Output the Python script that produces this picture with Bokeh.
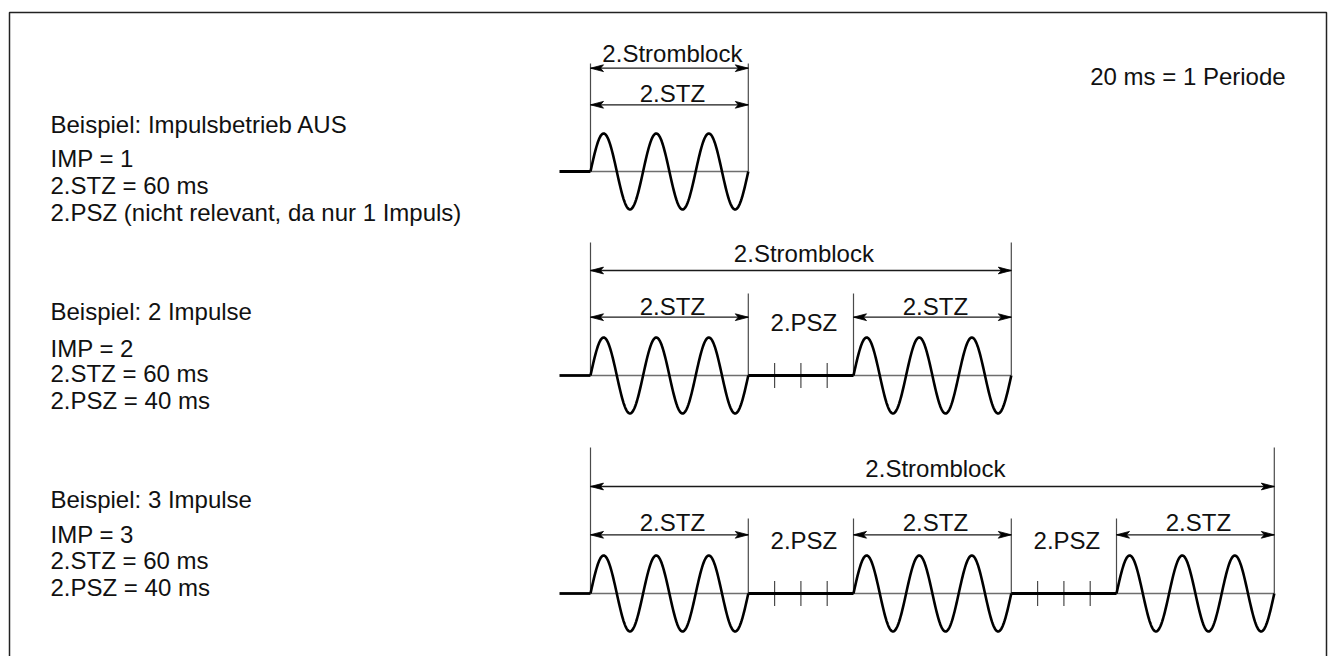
import numpy as np
from bokeh.plotting import figure
from bokeh.models import Range1d
from bokeh.core.properties import value
from bokeh.embed import file_html
from bokeh.resources import INLINE

# ---------------- data ----------------
period_ms = 20
imp = [1, 2, 3]
stz_ms = [60, 60, 60]
psz_ms = [40, 40, 40]
titles = ["Beispiel: Impulsbetrieb AUS", "Beispiel: 2 Impulse", "Beispiel: 3 Impulse"]
psz_notes = ["2.PSZ (nicht relevant, da nur 1 Impuls)", "2.PSZ = 40 ms", "2.PSZ = 40 ms"]
block_label = "2.Stromblock"
stz_label = "2.STZ"
psz_label = "2.PSZ"
period_note = "20 ms = 1 Periode"

# ---------------- layout ----------------
W, H = 1330, 656
X0 = 590.0          # canvas px of t = 0
S = 2.63            # px per ms
FONT = value("Liberation Sans")
FS = value("24px")
AMP = 38.0

def px2ms(px):
    return (px - X0) / S

base_y = [171, 375, 593]                 # canvas y of the zero line of each row
outer_top = [108, 133, 146]              # extension line heights above zero line
inner_top = [0, 82, 75]
block_arrow = [103.3, 105, 107]
stz_arrow = [66.7, 58.3, 58.7]
block_text = [118, 121.7, 125]
stz_text = [78, 69, 71.3]
psz_text = [0, 53.3, 53.3]
left_lines_y = [[124, 158.3, 185, 211.7],
                [310.7, 347.7, 373.3, 400],
                [499, 534.3, 560, 586.7]]
LEAD_PX = 31

p = figure(width=W, height=H, output_backend="svg", toolbar_location=None,
           x_range=Range1d(px2ms(0), px2ms(W)), y_range=Range1d(H, 0),
           x_axis_location=None, y_axis_location=None, min_border=0,
           outline_line_color=None, background_fill_color="white",
           border_fill_color="white")
p.grid.visible = False

# frame
fx = [px2ms(9), px2ms(9), px2ms(1326), px2ms(1326)]
fy = [H, 12, 12, H]
p.line(fx, fy, line_color="#222222", line_width=1.5)

wave_xs, wave_ys = [], []
thick_xs, thick_ys = [], []
thin_x0, thin_x1, thin_y = [], [], []
ext_x, ext_y0, ext_y1 = [], [], []
tick_x, tick_y0, tick_y1 = [], [], []
arr_x0, arr_x1, arr_y = [], [], []
head_xs, head_ys = [], []
lab_x, lab_y, lab_t = [], [], []

HL, HW, NOTCH = 13.0, 3.4, 3.0

def add_arrow(a, b, y):
    arr_x0.append(a); arr_x1.append(b); arr_y.append(y)
    for tip, d in ((a, -1), (b, 1)):
        head_xs.append([tip, tip - d * HL / S, tip - d * (HL - NOTCH) / S, tip - d * HL / S])
        head_ys.append([y, y - HW, y, y + HW])

for r in range(3):
    b = base_y[r]
    n = imp[r]
    starts = [i * (stz_ms[r] + psz_ms[r]) for i in range(n)]
    ends = [s + stz_ms[r] for s in starts]
    total = ends[-1]
    # waves
    for s, e in zip(starts, ends):
        t = np.linspace(s, e, 240)
        wave_xs.append(t)
        wave_ys.append(b - AMP * np.sin(2 * np.pi * (t - s) / period_ms))
    # thick zero segments: lead-in and pauses
    thick_xs.append([-LEAD_PX / S, 0]); thick_ys.append([b, b])
    for i in range(n - 1):
        thick_xs.append([ends[i], starts[i + 1]]); thick_ys.append([b, b])
        k = 1
        while ends[i] + k * period_ms / 2 < starts[i + 1] - 1e-9:
            tx = ends[i] + k * period_ms / 2
            tick_x.append(tx); tick_y0.append(b - 12.5); tick_y1.append(b + 12.5)
            k += 1
    thin_x0.append(0); thin_x1.append(total); thin_y.append(b)
    # extension lines
    for xv in (0, total):
        ext_x.append(xv); ext_y0.append(b - outer_top[r]); ext_y1.append(b)
    for i in range(n - 1):
        for xv in (ends[i], starts[i + 1]):
            ext_x.append(xv); ext_y0.append(b - inner_top[r]); ext_y1.append(b)
    # arrows
    add_arrow(0, total, b - block_arrow[r])
    for s, e in zip(starts, ends):
        add_arrow(s, e, b - stz_arrow[r])
    # labels
    lab_x.append(total / 2); lab_y.append(b - block_text[r]); lab_t.append(block_label)
    for s, e in zip(starts, ends):
        lab_x.append((s + e) / 2); lab_y.append(b - stz_text[r]); lab_t.append(stz_label)
    for i in range(n - 1):
        lab_x.append((ends[i] + starts[i + 1]) / 2); lab_y.append(b - psz_text[r]); lab_t.append(psz_label)

# thin zero lines
p.segment(thin_x0, thin_y, thin_x1, thin_y, line_color="#6e6e6e", line_width=1.3)
# extension lines and pause ticks
p.segment(ext_x, ext_y0, ext_x, ext_y1, line_color="#4a4a4a", line_width=1.2)
p.segment(tick_x, tick_y0, tick_x, tick_y1, line_color="#4a4a4a", line_width=1.2)
# thick zero segments
p.multi_line(thick_xs, thick_ys, line_color="black", line_width=2.8)
# waves
p.multi_line(wave_xs, wave_ys, line_color="black", line_width=2.6, line_join="round")
# arrows
p.segment(arr_x0, arr_y, arr_x1, arr_y, line_color="#1a1a1a", line_width=1.3)
p.patches(head_xs, head_ys, fill_color="black", line_color="black", line_width=0.8)

# labels over dimension arrows
p.text(lab_x, lab_y, text=lab_t, text_font=FONT, text_font_size=FS,
       text_align="center", text_baseline="alphabetic", text_color="#111111", x_offset=3)

# left-hand descriptions
lx, ly, lt = [], [], []
for r in range(3):
    lines = [titles[r], f"IMP = {imp[r]}", f"2.STZ = {stz_ms[r]} ms", psz_notes[r]]
    for yv, tx in zip(left_lines_y[r], lines):
        lx.append(px2ms(50)); ly.append(yv); lt.append(tx)
p.text(lx, ly, text=lt, text_font=FONT, text_font_size=FS,
       text_align="left", text_baseline="alphabetic", text_color="#111111")

# period note
p.text([px2ms(1187.4)], [75.7], text=[period_note], text_font=FONT, text_font_size=FS,
       text_align="center", text_baseline="alphabetic", text_color="#111111")

open("out.html", "w").write(file_html(p, INLINE))
